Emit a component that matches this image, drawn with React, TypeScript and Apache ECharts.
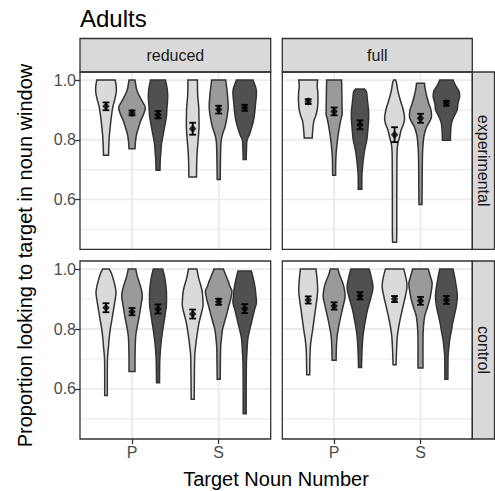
import React, { useEffect, useRef } from "react";
import * as echarts from "echarts";

const FONT = '"Liberation Sans", Arial, Helvetica, sans-serif';

const facetCols = ["reduced", "full"];
const facetRows = ["experimental", "control"];
const nounNumbers = ["P", "S"];
const yTicks = [0.6, 0.8, 1.0];
const yMinorBreaks = [0.5, 0.7, 0.9];
const xBreaks = [1, 2];
const fillColors = ["#dadada", "#9a9a9a", "#505050"];
const dodgeOffsets = [-0.3, 0, 0.3];

// means and standard errors, order: P(light, mid, dark), S(light, mid, dark)
const meansReducedExp = [0.912, 0.89, 0.884, 0.837, 0.901, 0.907];
const errReducedExp = [0.013, 0.008, 0.012, 0.02, 0.013, 0.01];
const meansFullExp = [0.928, 0.895, 0.85, 0.817, 0.872, 0.922];
const errFullExp = [0.008, 0.013, 0.015, 0.025, 0.015, 0.008];
const meansReducedCtl = [0.871, 0.858, 0.867, 0.85, 0.891, 0.868];
const errReducedCtl = [0.015, 0.012, 0.015, 0.015, 0.01, 0.015];
const meansFullCtl = [0.897, 0.877, 0.911, 0.9, 0.894, 0.897];
const errFullCtl = [0.012, 0.012, 0.012, 0.01, 0.013, 0.013];

// violin density profiles: [proportion, density]
const violinsReducedExp = [
  [[1.0, 9.2], [0.98, 10.2], [0.96, 10.3], [0.935, 8.8], [0.91, 6.8], [0.88, 5.5], [0.853, 4.5], [0.82, 3.5], [0.798, 3], [0.77, 2.7], [0.748, 2.5]],
  [[1.0, 3], [0.964, 5], [0.93, 10], [0.909, 13.3], [0.885, 11.5], [0.864, 8.7], [0.84, 6.5], [0.82, 4.7], [0.795, 3.5], [0.77, 3]],
  [[1.0, 7.5], [0.97, 9.2], [0.943, 9.7], [0.9, 8.8], [0.876, 8.3], [0.82, 5.3], [0.787, 3.5], [0.764, 3], [0.73, 2.2], [0.698, 2]],
  [[1.0, 4.7], [0.95, 5], [0.91, 6], [0.87, 6.3], [0.84, 6.3], [0.8, 5.5], [0.76, 4.5], [0.72, 4], [0.675, 3.8]],
  [[1.0, 7], [0.96, 8.5], [0.909, 9.5], [0.87, 8], [0.842, 6.2], [0.82, 4], [0.798, 2.5], [0.77, 2], [0.72, 1.7], [0.667, 1.5]],
  [[1.0, 8.3], [0.964, 11.7], [0.92, 10.8], [0.9, 10.3], [0.864, 8.8], [0.82, 5], [0.798, 2.3], [0.77, 1.8], [0.734, 1.5]],
];
const violinsFullExp = [
  [[1.0, 9.5], [0.98, 9], [0.96, 9.6], [0.93, 9.8], [0.9, 9], [0.88, 7.5], [0.86, 5.5], [0.83, 4.5], [0.806, 4]],
  [[1.0, 7.5], [0.95, 7.8], [0.9, 8], [0.885, 8], [0.864, 6.5], [0.842, 5.3], [0.798, 3.3], [0.742, 1.8], [0.681, 1.5]],
  [[0.97, 4.5], [0.96, 6.5], [0.93, 7.5], [0.9, 8.5], [0.875, 8.7], [0.82, 7.5], [0.798, 6.7], [0.753, 4], [0.687, 2], [0.634, 1.8]],
  [[1.0, 1], [0.99, 2], [0.964, 3.3], [0.93, 6], [0.909, 8], [0.887, 9.5], [0.87, 10], [0.853, 9], [0.831, 6.5], [0.809, 5], [0.787, 3.3], [0.76, 2.5], [0.7, 2.3], [0.6, 2.2], [0.5, 2.2], [0.457, 2]],
  [[0.989, 4], [0.975, 4.5], [0.95, 6], [0.92, 8.5], [0.9, 10.5], [0.876, 11], [0.86, 9], [0.842, 6], [0.82, 4], [0.8, 3], [0.75, 2], [0.65, 1.7], [0.583, 1.5]],
  [[1.0, 6.7], [0.98, 9.5], [0.964, 12.5], [0.945, 13.3], [0.92, 11.5], [0.9, 10.8], [0.87, 6.5], [0.853, 5], [0.83, 4.3], [0.798, 4]],
];
const violinsReducedCtl = [
  [[1.0, 3.3], [0.985, 5.5], [0.964, 7.5], [0.94, 9.3], [0.92, 10], [0.895, 9], [0.864, 7.5], [0.83, 5.8], [0.798, 4.2], [0.77, 3.2], [0.742, 2.5], [0.703, 1.5], [0.65, 1.3], [0.578, 1.3]],
  [[1.0, 3.8], [0.98, 5], [0.953, 7.5], [0.93, 9.5], [0.909, 10.3], [0.88, 9], [0.842, 7.2], [0.81, 5.3], [0.776, 3.7], [0.74, 3.2], [0.7, 3], [0.658, 3]],
  [[1.0, 4.7], [0.97, 6.8], [0.931, 8.3], [0.9, 8.5], [0.876, 8.3], [0.85, 7.2], [0.82, 5.8], [0.787, 4.3], [0.753, 3], [0.72, 2.2], [0.687, 1.7], [0.621, 1.5]],
  [[1.0, 4.2], [0.97, 6], [0.931, 9.2], [0.9, 10.2], [0.876, 10.3], [0.85, 8.5], [0.82, 6.3], [0.79, 4.8], [0.764, 3.7], [0.735, 2.7], [0.709, 2], [0.65, 1.7], [0.566, 1.5]],
  [[1.0, 4.7], [0.98, 7], [0.96, 9.5], [0.942, 11.3], [0.926, 13.3], [0.9, 12], [0.876, 10], [0.853, 8.3], [0.825, 6], [0.798, 3.8], [0.77, 2.8], [0.742, 2], [0.69, 1.7], [0.632, 1.5]],
  [[0.994, 6.7], [0.97, 8.5], [0.94, 10.3], [0.909, 11.3], [0.887, 11.7], [0.86, 9.5], [0.82, 6.7], [0.79, 4.5], [0.764, 3], [0.72, 2.2], [0.687, 1.7], [0.6, 1.5], [0.517, 1.5]],
];
const violinsFullCtl = [
  [[1.0, 7.8], [0.97, 8.8], [0.931, 9.5], [0.9, 8.7], [0.864, 7.2], [0.83, 5.8], [0.798, 4.5], [0.77, 3.2], [0.742, 2.2], [0.7, 1.7], [0.647, 1.5]],
  [[1.0, 3.8], [0.98, 5.5], [0.96, 8], [0.942, 9.7], [0.909, 11], [0.876, 9], [0.842, 6.7], [0.81, 4.7], [0.776, 3], [0.74, 2.3], [0.696, 2]],
  [[1.0, 9.2], [0.97, 11.5], [0.937, 13], [0.9, 10.5], [0.864, 7.5], [0.83, 5.5], [0.798, 3.8], [0.77, 2.8], [0.742, 2.2], [0.7, 1.7], [0.672, 1.5]],
  [[1.0, 9.2], [0.97, 11.5], [0.942, 12.5], [0.909, 10.8], [0.876, 8.5], [0.842, 6.2], [0.81, 4.3], [0.776, 2.8], [0.73, 2], [0.681, 1.5]],
  [[1.0, 7.8], [0.975, 10], [0.953, 11.7], [0.92, 10.5], [0.898, 9.2], [0.87, 6.8], [0.842, 4.2], [0.798, 2.8], [0.75, 2.5], [0.7, 2.5], [0.67, 2.5]],
  [[1.0, 6.7], [0.97, 8.5], [0.94, 10], [0.909, 11], [0.876, 10], [0.85, 8.3], [0.82, 6.3], [0.79, 4.8], [0.764, 3.3], [0.735, 2.4], [0.709, 1.7], [0.632, 1.5]],
];

const panelMeans = [meansReducedExp, meansFullExp, meansReducedCtl, meansFullCtl];
const panelErrs = [errReducedExp, errFullExp, errReducedCtl, errFullCtl];
const panelViolins = [violinsReducedExp, violinsFullExp, violinsReducedCtl, violinsFullCtl];

const Y_MIN = 0.433;
const Y_MAX = 1.027;
const X_MIN = 0.4;
const X_MAX = 2.6;
const VIOLIN_HALF = 0.15;
const DENSITY_MAX = 13.0;

// layout (px)
const panelLeft = [80, 282.3];
const panelWidth = [190.7, 190];
const panelTop = [72, 261];
const panelHeight = [177.3, 178];
const stripTop = 38.5;
const stripRightX = 472.3;
const stripRightW = 22.2;

function catmull(pts: number[][]): string {
  let d = "";
  for (let i = 0; i < pts.length - 1; i++) {
    const p0 = pts[Math.max(0, i - 1)];
    const p1 = pts[i];
    const p2 = pts[i + 1];
    const p3 = pts[Math.min(pts.length - 1, i + 2)];
    const c1x = p1[0] + (p2[0] - p0[0]) / 6;
    const c1y = p1[1] + (p2[1] - p0[1]) / 6;
    const c2x = p2[0] - (p3[0] - p1[0]) / 6;
    const c2y = p2[1] - (p3[1] - p1[1]) / 6;
    d += ` C${c1x},${c1y} ${c2x},${c2y} ${p2[0]},${p2[1]}`;
  }
  return d;
}

function xPos(i: number) {
  return 1 + Math.floor(i / 3) + dodgeOffsets[i % 3];
}

export default function App() {
  const ref = useRef<HTMLDivElement>(null);
  useEffect(() => {
    if (!ref.current) return;
    const chart = echarts.init(ref.current, null, { renderer: "svg" });
    const K = VIOLIN_HALF / DENSITY_MAX;

    const grids: any[] = [];
    const xAxes: any[] = [];
    const yAxes: any[] = [];
    const series: any[] = [];
    const graphics: any[] = [];

    for (let p = 0; p < 4; p++) {
      const col = p % 2;
      const row = Math.floor(p / 2);
      grids.push({
        left: panelLeft[col],
        top: panelTop[row],
        width: panelWidth[col],
        height: panelHeight[row],
        show: true,
        borderColor: "#333333",
        borderWidth: 1.3,
        backgroundColor: "transparent",
        z: 10,
      });
      const bottom = row === 1;
      const leftSide = col === 0;
      xAxes.push({
        gridIndex: p,
        type: "value",
        min: X_MIN,
        max: X_MAX,
        splitLine: { show: false },
        axisLine: { show: false },
        axisTick: { show: bottom, customValues: xBreaks, length: 5, lineStyle: { color: "#333333", width: 1.3 } },
        axisLabel: {
          show: bottom,
          customValues: xBreaks,
          formatter: (v: number) => nounNumbers[Math.round(v) - 1],
          color: "#4d4d4d",
          fontSize: 16,
          fontFamily: FONT,
          margin: 5,
        },
      });
      yAxes.push({
        gridIndex: p,
        type: "value",
        min: Y_MIN,
        max: Y_MAX,
        splitLine: { show: false },
        axisLine: { show: false },
        axisTick: { show: leftSide, customValues: yTicks, length: 5, lineStyle: { color: "#333333", width: 1.3 } },
        axisLabel: {
          show: leftSide,
          customValues: yTicks,
          formatter: (v: number) => v.toFixed(1),
          color: "#4d4d4d",
          fontSize: 16,
          fontFamily: FONT,
          margin: 4,
        },
      });

      // grid lines
      const glData: number[][] = [];
      yMinorBreaks.forEach((v) => glData.push([1.5, v, 1]));
      yTicks.forEach((v) => glData.push([1.5, v, 0]));
      xBreaks.forEach((v) => glData.push([v, 0.7, 2]));
      series.push({
        type: "custom",
        xAxisIndex: p,
        yAxisIndex: p,
        z: 1,
        silent: true,
        data: glData,
        renderItem: (params: any, api: any) => {
          const cs = params.coordSys;
          const kind = api.value(2);
          if (kind === 2) {
            const x = api.coord([api.value(0), 0.7])[0];
            return {
              type: "line",
              shape: { x1: x, y1: cs.y, x2: x, y2: cs.y + cs.height },
              style: { stroke: "#ebebeb", lineWidth: 1.8 },
            };
          }
          const y = api.coord([1.5, api.value(1)])[1];
          return {
            type: "line",
            shape: { x1: cs.x, y1: y, x2: cs.x + cs.width, y2: y },
            style: { stroke: "#ebebeb", lineWidth: kind === 0 ? 1.8 : 1.1 },
          };
        },
      });

      // violins
      const violins = panelViolins[p];
      series.push({
        type: "custom",
        xAxisIndex: p,
        yAxisIndex: p,
        z: 2,
        silent: true,
        data: violins.map((_, i) => [xPos(i), panelMeans[p][i], i]),
        renderItem: (params: any, api: any) => {
          const i = api.value(2);
          const xc = api.value(0);
          const prof = violins[i];
          const right = prof.map(([v, d]) => api.coord([xc + d * K, v]));
          const left = prof.map(([v, d]) => api.coord([xc - d * K, v])).reverse();
          let d = `M${right[0][0]},${right[0][1]}`;
          d += catmull(right);
          d += ` L${left[0][0]},${left[0][1]}`;
          d += catmull(left);
          d += " Z";
          return {
            type: "path",
            shape: { pathData: d },
            style: { fill: fillColors[i % 3], stroke: "#333333", lineWidth: 1.5 },
          };
        },
      });

      // error bars
      series.push({
        type: "custom",
        xAxisIndex: p,
        yAxisIndex: p,
        z: 3,
        silent: true,
        data: panelMeans[p].map((m, i) => [xPos(i), m, panelErrs[p][i]]),
        renderItem: (params: any, api: any) => {
          const xc = api.value(0);
          const m = api.value(1);
          const e = api.value(2);
          const top = api.coord([xc, m + e]);
          const bot = api.coord([xc, m - e]);
          const hw = 3.4;
          const st = { stroke: "#000", lineWidth: 1.8 };
          return {
            type: "group",
            children: [
              { type: "line", shape: { x1: top[0], y1: top[1], x2: bot[0], y2: bot[1] }, style: st },
              { type: "line", shape: { x1: top[0] - hw, y1: top[1], x2: top[0] + hw, y2: top[1] }, style: st },
              { type: "line", shape: { x1: bot[0] - hw, y1: bot[1], x2: bot[0] + hw, y2: bot[1] }, style: st },
            ],
          };
        },
      });

      // mean points
      series.push({
        type: "scatter",
        xAxisIndex: p,
        yAxisIndex: p,
        z: 4,
        silent: true,
        symbol: "diamond",
        symbolSize: [7.5, 8.5],
        itemStyle: { color: "#000" },
        data: panelMeans[p].map((m, i) => [xPos(i), m]),
      });
    }

    // strips
    facetCols.forEach((name, c) => {
      graphics.push({
        type: "rect",
        shape: { x: panelLeft[c], y: stripTop, width: panelWidth[c], height: panelTop[0] - stripTop },
        style: { fill: "#d9d9d9", stroke: "#333333", lineWidth: 1.3 },
        z: 5,
      });
      graphics.push({
        type: "text",
        x: panelLeft[c] + panelWidth[c] / 2,
        y: (stripTop + panelTop[0]) / 2,
        style: { text: name, fill: "#1a1a1a", font: `16px ${FONT}`, align: "center", verticalAlign: "middle" },
        z: 6,
      });
    });
    facetRows.forEach((name, r) => {
      graphics.push({
        type: "rect",
        shape: { x: stripRightX, y: panelTop[r], width: stripRightW, height: panelHeight[r] },
        style: { fill: "#d9d9d9", stroke: "#333333", lineWidth: 1.3 },
        z: 5,
      });
      graphics.push({
        type: "text",
        x: stripRightX + stripRightW / 2,
        y: panelTop[r] + panelHeight[r] / 2,
        rotation: -Math.PI / 2,
        style: { text: name, fill: "#1a1a1a", font: `16px ${FONT}`, align: "center", verticalAlign: "middle" },
        z: 6,
      });
    });
    // title
    graphics.push({
      type: "text",
      x: 80,
      y: 18.4,
      style: { text: "Adults", fill: "#000", font: `24px ${FONT}`, align: "left", verticalAlign: "middle" },
    });
    // axis titles
    graphics.push({
      type: "text",
      x: 276,
      y: 479,
      style: { text: "Target Noun Number", fill: "#000", font: `20px ${FONT}`, align: "center", verticalAlign: "middle" },
    });
    graphics.push({
      type: "text",
      x: 25,
      y: 255.5,
      rotation: Math.PI / 2,
      style: { text: "Proportion looking to target in noun window", fill: "#000", font: `20px ${FONT}`, align: "center", verticalAlign: "middle" },
    });

    chart.setOption({
      animation: false,
      backgroundColor: "#ffffff",
      grid: grids,
      xAxis: xAxes,
      yAxis: yAxes,
      series,
      graphic: graphics,
    });
    return () => chart.dispose();
  }, []);
  return <div ref={ref} style={{ position: "fixed", left: 0, top: 0, width: 495, height: 491 }} />;
}
